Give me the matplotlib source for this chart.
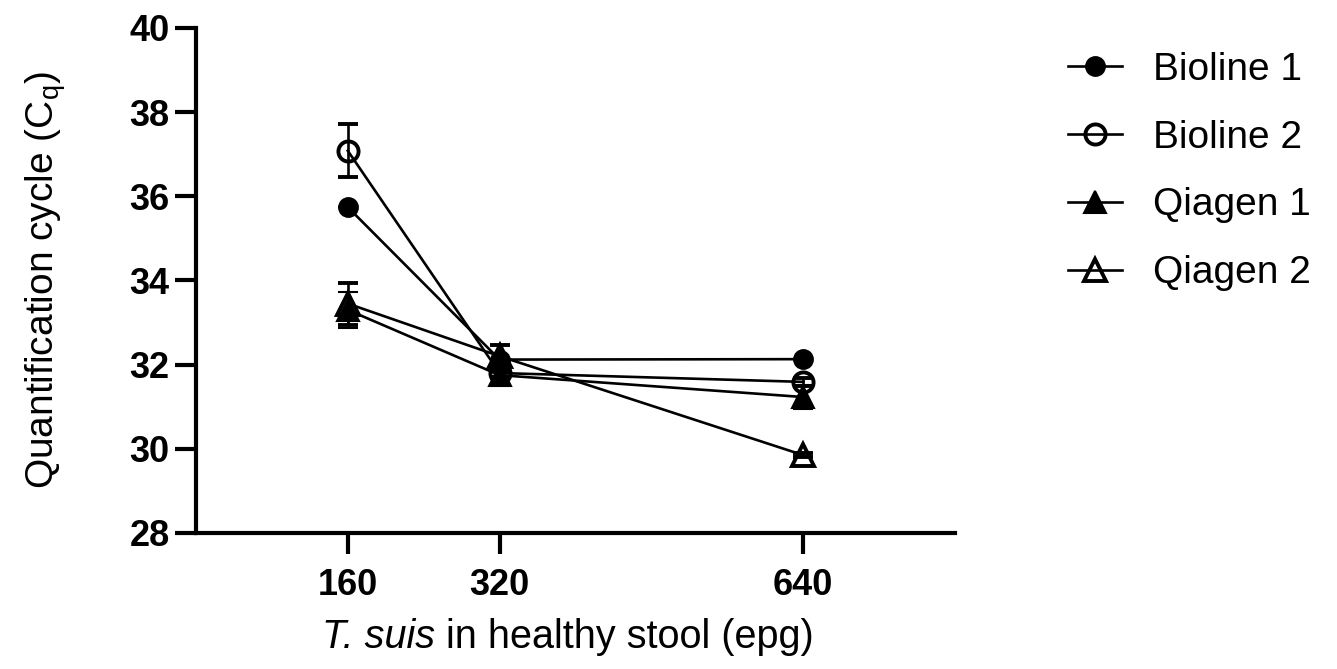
import matplotlib
matplotlib.use("Agg")
import matplotlib.pyplot as plt
from matplotlib.lines import Line2D

plt.rcParams['font.family'] = ['Liberation Sans', 'DejaVu Sans']
plt.rcParams['mathtext.fontset'] = 'custom'
plt.rcParams['mathtext.rm'] = 'Liberation Sans'
plt.rcParams['mathtext.it'] = 'Liberation Sans:italic'

# Data
epg = [160, 320, 640]
series_names = ["Bioline 1", "Bioline 2", "Qiagen 1", "Qiagen 2"]
bioline1 = [35.74, 32.12, 32.13]
bioline1_err = [0.0, 0.0, 0.0]
bioline2 = [37.08, 31.80, 31.59]
bioline2_err = [0.63, 0.10, 0.10]
qiagen1 = [33.30, 31.75, 31.23]
qiagen1_err = [0.42, 0.10, 0.28]
qiagen2 = [33.45, 32.20, 29.85]
qiagen2_err = [0.50, 0.27, 0.05]

yticks = [28, 30, 32, 34, 36, 38, 40]
xticks = [160, 320, 640]

W, H = 1337, 669
fig = plt.figure(figsize=(W / 100, H / 100), dpi=100)
ax = fig.add_axes([0.1466, 0.2033, 0.5677, 0.755])

styles = [
    dict(marker='o', mfc='black', mec='black', ms=13.5, mew=1.5),
    dict(marker='o', mfc='none', mec='black', ms=14.5, mew=2.8),
    dict(marker='^', mfc='black', mec='black', ms=16, mew=1.5),
    dict(marker='^', mfc='none', mec='black', ms=15.5, mew=2.8),
]
values = [bioline1, bioline2, qiagen1, qiagen2]
errors = [bioline1_err, bioline2_err, qiagen1_err, qiagen2_err]

handles = []
for name, v, e, st in zip(series_names, values, errors, styles):
    ax.errorbar(epg, v, yerr=e, color='black', lw=1.9, elinewidth=1.9,
                capsize=7.5, capthick=1.9, **st)
    handles.append(Line2D([], [], color='black', lw=1.9, **st))

ax.set_xlim(0, 800)
ax.set_ylim(28, 40)
ax.set_xticks(xticks)
ax.set_xticklabels([str(x) for x in xticks])
ax.set_yticks(yticks)
ax.set_yticklabels([str(y) for y in yticks])

for s in ['top', 'right']:
    ax.spines[s].set_visible(False)
for s in ['left', 'bottom']:
    ax.spines[s].set_linewidth(3)
ax.tick_params(axis='both', width=3, length=15, labelsize=26)
ax.tick_params(axis='x', pad=10)
ax.tick_params(axis='y', pad=4)
for lab in ax.get_xticklabels() + ax.get_yticklabels():
    lab.set_fontweight('bold')

ax.set_ylabel(r"Quantification cycle (C$_\mathrm{q}$)", fontsize=28, labelpad=44)

# x label: italic species name followed by upright text
fs = 28.5
fig.canvas.draw()
r = fig.canvas.get_renderer()
t1 = fig.text(0, 0, "T. suis", fontsize=fs, fontstyle='italic', va='center', ha='left')
t2 = fig.text(0, 0, "in healthy stool (epg)", fontsize=fs, va='center', ha='left')
w1 = t1.get_window_extent(r).width
w2 = t2.get_window_extent(r).width
gap = 0.278 * fs * 100 / 72
total = w1 + gap + w2
xc, yc = 568, H - 637
x0 = xc - total / 2
t1.set_position((x0 / W, yc / H))
t2.set_position(((x0 + w1 + gap) / W, yc / H))

leg = ax.legend(handles=handles, labels=series_names, loc='upper left',
                bbox_to_anchor=(0.787, 0.946), bbox_transform=fig.transFigure,
                frameon=False, fontsize=28, handlelength=1.4, handletextpad=0.8,
                labelspacing=0.82, borderaxespad=0)

fig.savefig("out.png", dpi=100)
